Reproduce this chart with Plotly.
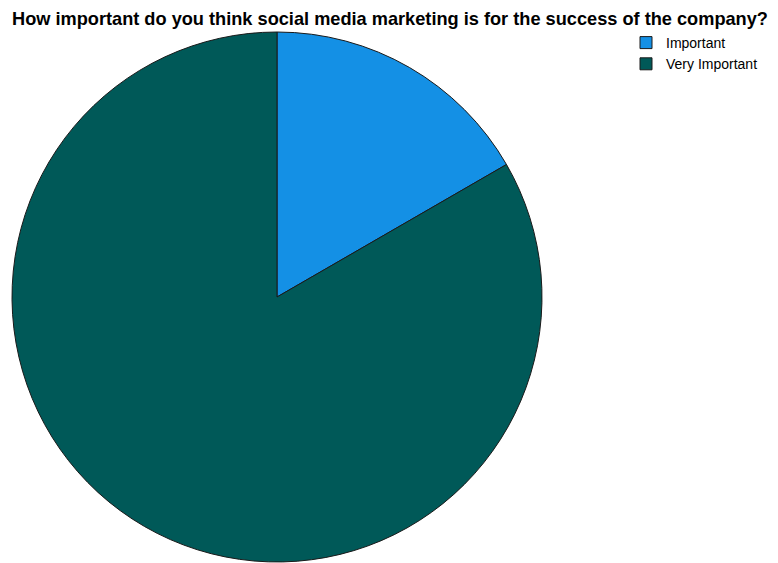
import plotly.graph_objects as go

categories = ["Important", "Very Important"]
counts = [5, 25]
colors = ["#1490E5", "#005958"]

W, H = 778, 563
OX, OY = 8, 7  # page offset of the rendered figure

fig = go.Figure(go.Pie(
    labels=categories,
    values=counts,
    sort=False,
    direction="clockwise",
    rotation=0,
    textinfo="none",
    hoverinfo="label+value+percent",
    marker=dict(colors=colors, line=dict(color="#1a1a1a", width=1)),
    domain=dict(x=[(12 - OX) / W, (542 - OX) / W],
                y=[(H - 561 + OY) / H, (H - 31 + OY) / H]),
))

fig.update_layout(
    width=W, height=H,
    margin=dict(l=0, r=0, t=0, b=0),
    paper_bgcolor="white",
    plot_bgcolor="white",
    title=dict(
        text="<b>How important do you think social media marketing is for the success of the company?</b>",
        x=(12 - OX) / W, xanchor="left", xref="container",
        y=1 - (18 - OY) / H, yanchor="middle", yref="container",
        font=dict(family="Liberation Sans, Arial, sans-serif", size=18.2, color="#000000"),
    ),
    legend=dict(
        x=618 / W, xanchor="left",
        y=1 - 19 / H, yanchor="top",
        font=dict(family="Liberation Sans, Arial, sans-serif", size=14, color="#000000"),
        bgcolor="rgba(0,0,0,0)",
        tracegroupgap=0,
        itemwidth=30,
    ),
    showlegend=True,
)

fig.write_html("out.html")
